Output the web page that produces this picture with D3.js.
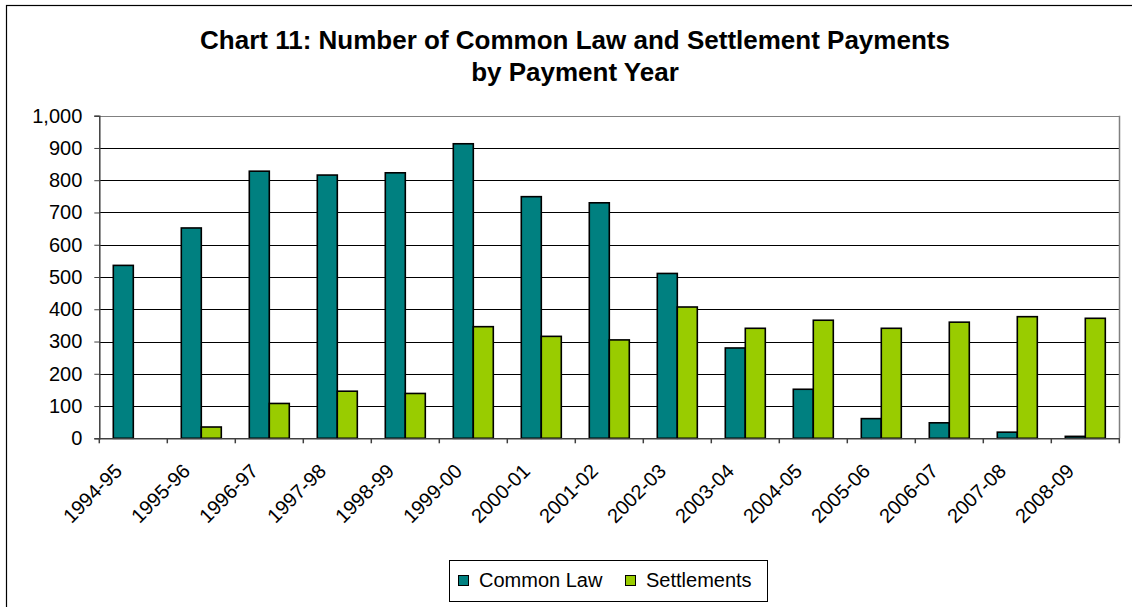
<!DOCTYPE html>
<html>
<head>
<meta charset="utf-8">
<script src="https://cdn.jsdelivr.net/npm/d3@7"></script>
<style>
  html, body { margin: 0; padding: 0; background: #fff; }
  svg { display: block; font-family: Arial, "Liberation Sans", sans-serif; }
</style>
</head>
<body>
<svg id="chart" width="1132" height="607"></svg>
<script>
const categories = ["1994-95","1995-96","1996-97","1997-98","1998-99","1999-00","2000-01","2001-02","2002-03","2003-04","2004-05","2005-06","2006-07","2007-08","2008-09"];
const commonLaw   = [536, 652, 828, 816, 823, 913, 749, 730, 511, 280, 152, 61, 48, 19, 6];
const settlements = [0, 35, 108, 146, 139, 346, 316, 305, 407, 341, 366, 341, 360, 377, 372];
const seriesNames = ["Common Law", "Settlements"];
const seriesColors = ["#008080", "#99CC00"];
const yTicks = [0,100,200,300,400,500,600,700,800,900,1000];
const titleLines = ["Chart 11: Number of Common Law and Settlement Payments", "by Payment Year"];

const svg = d3.select("#chart");
const plot = {left: 99.3, right: 1119.3, top: 115.7, bottom: 438.3};
const FONT = 20;

// outer border
svg.append("rect").attr("x", 6.5).attr("y", 5.5).attr("width", 1140).attr("height", 620)
  .attr("fill", "#fff").attr("stroke", "#000").attr("stroke-width", 1.2);

// title
const title = svg.append("text").attr("text-anchor", "middle")
  .attr("font-weight", "bold").attr("font-size", 26).attr("fill", "#000");
titleLines.forEach((t, i) => {
  title.append("tspan").attr("x", 575).attr("y", 49 + i * 32).text(t);
});

const x0 = d3.scaleBand().domain(categories).range([plot.left, plot.right]).paddingInner(0).paddingOuter(0);
const x1 = d3.scaleBand().domain(seriesNames).range([0, x0.bandwidth()]).paddingInner(0).paddingOuter(0.7);
const y = d3.scaleLinear().domain([0, 1000]).range([plot.bottom, plot.top]);

// gridlines
svg.append("g").selectAll("line").data(yTicks.filter(d => d > 0)).join("line")
  .attr("x1", plot.left).attr("x2", plot.right)
  .attr("y1", d => Math.round(y(d)) + 0.5).attr("y2", d => Math.round(y(d)) + 0.5)
  .attr("stroke", d => d === 1000 ? "#808080" : "#000").attr("stroke-width", 1);

// right border of plot area
svg.append("line").attr("x1", Math.round(plot.right) + 0.5).attr("x2", Math.round(plot.right) + 0.5)
  .attr("y1", plot.top).attr("y2", plot.bottom).attr("stroke", "#808080").attr("stroke-width", 1.5);

// bars
const data = categories.map((c, i) => ({cat: c, vals: [commonLaw[i], settlements[i]]}));
const groups = svg.append("g").selectAll("g").data(data).join("g")
  .attr("transform", d => `translate(${x0(d.cat)},0)`);
groups.selectAll("rect").data(d => d.vals.map((v, j) => ({v, j})).filter(e => e.v > 0)).join("rect")
  .attr("x", e => x1(seriesNames[e.j]))
  .attr("y", e => y(e.v))
  .attr("width", x1.bandwidth())
  .attr("height", e => y(0) - y(e.v))
  .attr("fill", e => seriesColors[e.j])
  .attr("stroke", "#000").attr("stroke-width", 1.6);

// y axis
const yAxis = d3.axisLeft(y).tickValues(yTicks).tickFormat(d3.format(",")).tickSize(5).tickPadding(12);
const gy = svg.append("g").attr("transform", `translate(${plot.left},0)`).call(yAxis);
gy.select(".domain").attr("stroke", "#404040").attr("stroke-width", 1.5);
gy.selectAll(".tick line").attr("stroke", "#404040");
gy.selectAll(".tick text").attr("font-size", FONT).attr("fill", "#000")
  .attr("font-family", "Arial, 'Liberation Sans', sans-serif");

// x axis
const xAxis = d3.axisBottom(x0).tickSize(0).tickFormat("");
const gx = svg.append("g").attr("transform", `translate(0,${plot.bottom})`).call(xAxis);
gx.select(".domain").attr("stroke", "#404040").attr("stroke-width", 1.5);
gx.selectAll(".tick").remove();
// category boundary tick marks
svg.append("g").selectAll("line").data(categories.concat(["end"])).join("line")
  .attr("x1", (d, i) => plot.left + i * x0.bandwidth())
  .attr("x2", (d, i) => plot.left + i * x0.bandwidth())
  .attr("y1", plot.bottom).attr("y2", plot.bottom + 5)
  .attr("stroke", "#404040").attr("stroke-width", 1.5);

// x labels rotated
svg.append("g").selectAll("text").data(categories).join("text")
  .attr("text-anchor", "end")
  .attr("font-size", FONT).attr("fill", "#000")
  .attr("transform", d => `translate(${x0(d) + x0.bandwidth() / 2 - 10},${plot.bottom + 34}) rotate(-45)`)
  .text(d => d);

// legend
const lg = svg.append("g");
lg.append("rect").attr("x", 449.5).attr("y", 560.5).attr("width", 318).attr("height", 41)
  .attr("fill", "#fff").attr("stroke", "#000").attr("stroke-width", 1);
const legendX = [458, 625];
seriesNames.forEach((n, i) => {
  lg.append("rect").attr("x", legendX[i] + 0.5).attr("y", 575.5).attr("width", 10).attr("height", 10)
    .attr("fill", seriesColors[i]).attr("stroke", "#000").attr("stroke-width", 1);
  lg.append("text").attr("x", legendX[i] + 21).attr("y", 587).attr("font-size", FONT).attr("fill", "#000").text(n);
});
</script>
</body>
</html>
